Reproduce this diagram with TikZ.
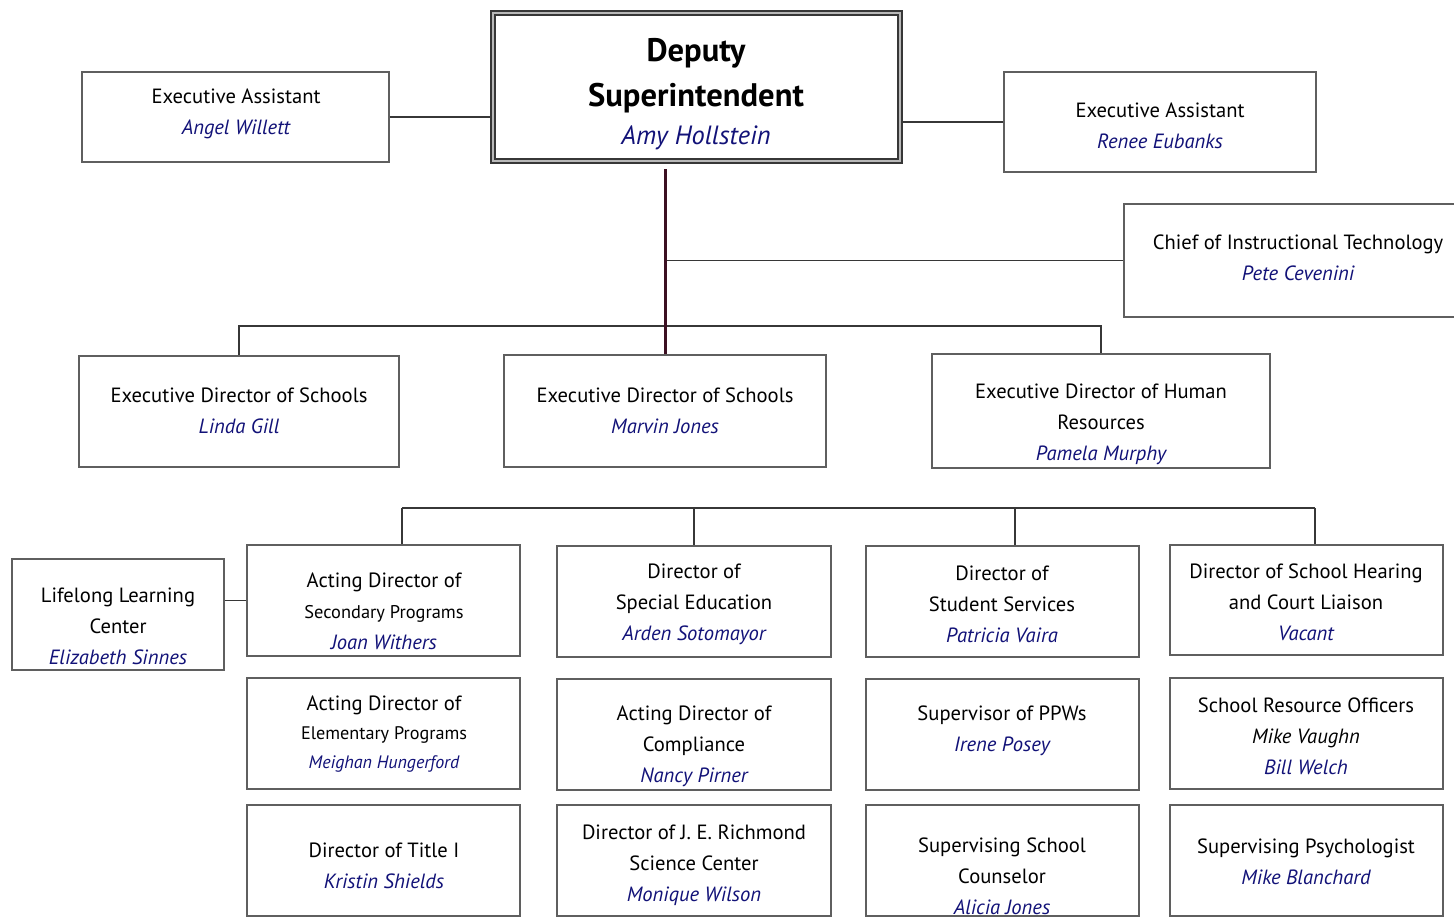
\documentclass[tikz,border=0pt]{standalone}
\usepackage{fontspec}
\setmainfont{PT Sans}
\usetikzlibrary{fit}
\definecolor{navy}{RGB}{18,18,120}
\definecolor{boxgray}{RGB}{95,95,95}
\definecolor{linegray}{RGB}{55,55,55}
\definecolor{maroon}{RGB}{60,16,34}
\newcommand\nm[1]{{\itshape\color{navy}#1}}
\tikzset{
  box/.style={draw=boxgray, line width=0.7pt, inner sep=0pt, fill=white},
  depbox/.style={draw=linegray, line width=0.9pt, double=gray!55, double distance=1.2pt, inner sep=0pt},
  txt/.style={align=center, inner sep=0pt, font=\fontsize{10.3}{15.5}\selectfont},
  conn/.style={draw=linegray, line width=0.55pt},
  mainconn/.style={draw=maroon, line width=1.5pt},
}
\begin{document}
\begin{tikzpicture}[x=0.5pt,y=-0.5pt]
\useasboundingbox (0,0) rectangle (1454,918);
% boxes
\node[depbox, fit={(493,13) (900,161)}] (deputy) {};
\node[box, fit={(82,72) (389,162)}] (ea1) {};
\node[box, fit={(1004,72) (1316,172)}] (ea2) {};
\node[box, fit={(1124,204) (1462,317)}] (chief) {};
\node[box, fit={(79,356) (399,467)}] (lgill) {};
\node[box, fit={(504,355) (826,467)}] (mjones) {};
\node[box, fit={(932,354) (1270,468)}] (hr) {};
\node[box, fit={(12,559) (224,670)}] (ll) {};
\node[box, fit={(247,545) (520,656)}] (c11) {};
\node[box, fit={(247,678) (520,789)}] (c12) {};
\node[box, fit={(247,805) (520,916)}] (c13) {};
\node[box, fit={(557,546) (831,657)}] (c21) {};
\node[box, fit={(557,679) (831,790)}] (c22) {};
\node[box, fit={(557,805) (831,916)}] (c23) {};
\node[box, fit={(866,546) (1139,657)}] (c31) {};
\node[box, fit={(866,679) (1139,790)}] (c32) {};
\node[box, fit={(866,805) (1139,916)}] (c33) {};
\node[box, fit={(1170,545) (1443,655)}] (c41) {};
\node[box, fit={(1170,678) (1443,789)}] (c42) {};
\node[box, fit={(1170,805) (1443,916)}] (c43) {};
% connectors
\draw[conn] (ea1.east) -- (ea1.east -| deputy.west);
\draw[conn] (ea2.west) -- (ea2.west -| deputy.east);
\draw[conn] (chief.west) -- (chief.west -| mjones.north);
\coordinate (busA) at (665,326);
\draw[conn] (lgill.north) -- (lgill.north |- busA) -- (hr.north |- busA) -- (hr.north);
\draw[mainconn, shorten >=3.5pt] (mjones.north) -- (mjones.north |- deputy.south);
\coordinate (busB1) at (402,508);
\coordinate (busB2) at (694,508);
\coordinate (busB3) at (1015,508);
\coordinate (busB4) at (1315,508);
\draw[conn] (busB1) -- (busB4);
\draw[conn] (busB1) -- (busB1 |- c11.north);
\draw[conn] (busB2) -- (busB2 |- c21.north);
\draw[conn] (busB3) -- (busB3 |- c31.north);
\draw[conn] (busB4) -- (busB4 |- c41.north);
\draw[conn] ([yshift=7pt]ll.east) -- ([yshift=7pt]ll.east -| c11.west);
% texts
\node[txt, font=\fontsize{16.3}{22.5}\selectfont\bfseries] (dep-t1) at (696,76) {Deputy\\Superintendent};
\node[txt, font=\fontsize{13.2}{16}\selectfont] (dep-t2) at (696,138) {\nm{Amy Hollstein}};
\node[txt] (ea1-t) at (236,114) {Executive Assistant\\\nm{Angel Willett}};
\node[txt] (ea2-t) at (1160,126) {Executive Assistant\\\nm{Renee Eubanks}};
\node[txt] (chief-t) at (1298,258) {Chief of Instructional Technology\\\nm{Pete Cevenini}};
\node[txt] (lgill-t) at (239,411) {Executive Director of Schools\\\nm{Linda Gill}};
\node[txt] (mjones-t) at (665,411) {Executive Director of Schools\\\nm{Marvin Jones}};
\node[txt] (hr-t) at (1101,424) {Executive Director of Human\\Resources\\\nm{Pamela Murphy}};
\node[txt] (ll-t) at (118,626) {Lifelong Learning\\Center\\\nm{Elizabeth Sinnes}};
\node[txt] (c11-t) at (384,611) {Acting Director of\\{\fontsize{9.2}{15.5}\selectfont Secondary Programs}\\\nm{Joan Withers}};
\node[txt, font=\fontsize{10.3}{14.5}\selectfont] (c12-t) at (384,734) {Acting Director of\\{\fontsize{9.1}{14.5}\selectfont Elementary Programs}\\{\fontsize{9}{14.5}\selectfont\nm{Meighan Hungerford}}};
\node[txt] (c13-t) at (384,866) {Director of Title I\\\nm{Kristin Shields}};
\node[txt] (c21-t) at (694,604) {Director of\\Special Education\\\nm{Arden Sotomayor}};
\node[txt] (c22-t) at (694,746) {Acting Director of\\Compliance\\\nm{Nancy Pirner}};
\node[txt] (c23-t) at (694,865) {Director of J. E. Richmond\\Science Center\\\nm{Monique Wilson}};
\node[txt] (c31-t) at (1002,604) {Director of\\Student Services\\\nm{Patricia Vaira}};
\node[txt] (c32-t) at (1002,731) {Supervisor of PPWs\\\nm{Irene Posey}};
\node[txt] (c33-t) at (1002,876) {Supervising School\\Counselor\\\nm{Alicia Jones}};
\node[txt] (c41-t) at (1306,602) {Director of School Hearing\\and Court Liaison\\\nm{Vacant}};
\node[txt] (c42-t) at (1306,736) {School Resource Officers\\\textit{Mike Vaughn}\\\nm{Bill Welch}};
\node[txt] (c43-t) at (1306,862) {Supervising Psychologist\\\nm{Mike Blanchard}};
\end{tikzpicture}
\end{document}
